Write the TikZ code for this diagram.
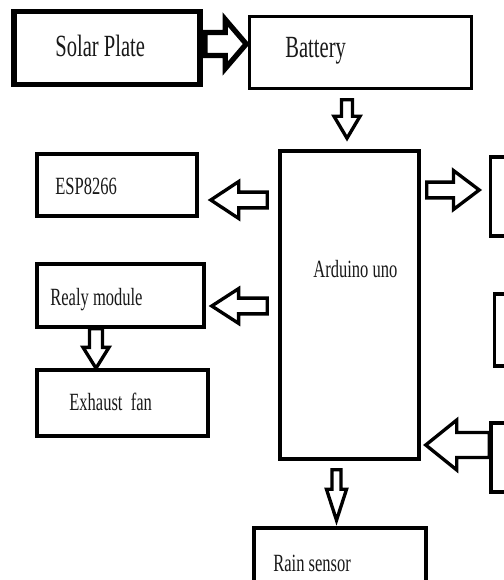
\documentclass[tikz,border=0pt]{standalone}
\usepackage{fontspec}
\setmainfont{Liberation Serif}
\usetikzlibrary{calc}
\newcommand{\talltext}[1]{\scalebox{1}[1.5]{#1}}
\begin{document}
\begin{tikzpicture}[x=0.02cm, y=-0.02cm,
    box/.style 2 args={draw, line width=2pt, inner sep=0pt,
      minimum width=#1*0.02cm, minimum height=#2*0.02cm},
    txt/.style={anchor=base west, inner sep=0pt, text=black!90,
      font=\fontsize{9.4}{11}\selectfont},
    bigtxt/.style={txt, font=\fontsize{11.7}{14}\selectfont},
    fat/.style n args={3}{line width=1.9pt, to path={
      let \p1=(\tikztostart), \p2=(\tikztotarget), \p3=($(\p2)!#3!(\p1)$) in
      ($(\p1)!#1!90:(\p2)$) -- ($(\p3)!#1!90:(\p2)$) -- ($(\p3)!#2!90:(\p2)$) -- (\p2)
      -- ($(\p3)!#2!-90:(\p2)$) -- ($(\p3)!#1!-90:(\p2)$) -- ($(\p1)!#1!-90:(\p2)$) -- cycle}}]
  \useasboundingbox[fill=white] (0,0) rectangle (503,580);
  % blocks
  \node[box={186}{73}, line width=3.4pt] (solar) at (107,48) {};
  \foreach \n/\x/\y/\w/\h in {bat/360.5/52.5/222/72, ard/349.5/305/139/308,
      esp/117/185/160/62, rly/120.5/295.5/167/63, fan/122.5/403/171/66,
      rain/340/556/172/56, out1/560.5/196.5/140/79, out2/564.5/330/140/72,
      out3/561/457.5/140/69}{
    \node[box={\w}{\h}] (\n) at (\x,\y) {};
  }
  % labels
  \node[bigtxt] (solar-t) at (55,57) {\talltext{Solar Plate}};
  \node[bigtxt] (bat-t) at (285,58) {\talltext{Battery}};
  \foreach \n/\x/\y/\t in {esp/55/195/ESP8266, ard/313/277/Arduino uno,
      rly/50/305/Realy module, fan/69/410/Exhaust~~fan, rain/273/571/Rain sensor}{
    \node[txt] (\n-t) at (\x,\y) {\talltext{\t}};
  }
  % block arrows
  \draw[fat={6.5pt}{13.9pt}{11.9pt}, line width=3pt] ($(solar.east)+(2,-4)$) to ($(bat.west)+(-1.5,-8.5)$);
  \draw[fat={3.1pt}{7.4pt}{12.5pt}] ($(bat.south)+(-13.5,9.5)$) to ($(ard.north)+(-2.5,-11)$);
  \draw[fat={4.5pt}{10.5pt}{15.9pt}] ($(ard.west)+(-11,-105)$) to ($(esp.east)+(12,15)$);
  \draw[fat={4.5pt}{9.9pt}{15.3pt}] ($(ard.west)+(-11,1)$) to ($(rly.east)+(6,10.5)$);
  \draw[fat={3.7pt}{7.4pt}{11.9pt}] ($(rly.south)+(-24.5,0)$) to ($(fan.north)+(-26.5,0)$);
  \draw[fat={4.5pt}{11.1pt}{14.7pt}] ($(ard.east)+(6,-115)$) to ($(out1.west)+(-9.5,-6.5)$);
  \draw[fat={7.1pt}{14.2pt}{17.6pt}] ($(out3.west)+(0,-12.5)$) to ($(ard.east)+(5,140)$);
  \draw[fat={2.6pt}{5.7pt}{17.6pt}] ($(ard.south)+(-13,9)$) to ($(rain.north)+(-3.5,-6)$);
\end{tikzpicture}
\end{document}
